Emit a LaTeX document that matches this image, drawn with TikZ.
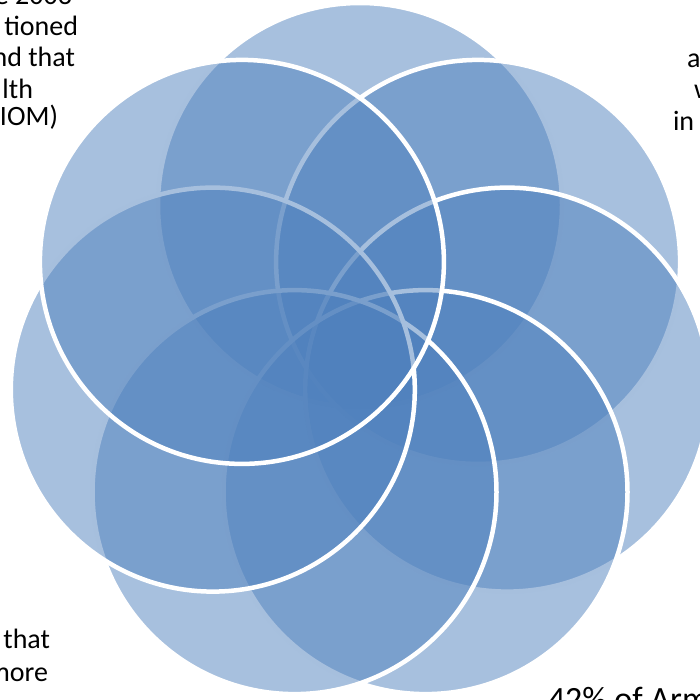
\documentclass[tikz,border=0pt]{standalone}
\usepackage{fontspec}
\setmainfont{Carlito}
\definecolor{accentblue}{HTML}{4F81BD}
\begin{document}
\begin{tikzpicture}[x=1pt,y=-1pt,
  petal/.style={fill=accentblue, fill opacity=0.5, draw=white, line width=4.5pt},
  txt/.style={inner sep=0pt, outer sep=0pt, font=\fontsize{28}{32}\selectfont, text=black},
  bigtxt/.style={inner sep=0pt, outer sep=0pt, font=\fontsize{34}{40}\selectfont, text=black}]
\useasboundingbox (0,0) rectangle (700,699);
% centres of the seven circles
\coordinate (c0) at (360,205);
\coordinate (c1) at (478.1,261.9);
\coordinate (c2) at (507.2,389.6);
\coordinate (c3) at (425.5,492.1);
\coordinate (c4) at (294.5,492.1);
\coordinate (c5) at (212.8,389.6);
\coordinate (c6) at (241.9,261.9);
\foreach \k in {0,...,6}{
  \path[petal] (c\k) circle[radius=202];
}
% top-left text
\node[txt, anchor=base east] (tl1) at (72,4) {e 2003};
\node[txt, anchor=base east] (tl2) at (78,35) {tioned};
\node[txt, anchor=base east] (tl3) at (75,66.5) {nd that};
\node[txt, anchor=base east] (tl4) at (33,98) {lth};
\node[txt, anchor=base east] (tl5) at (58,125) {IOM)};
% top-right text
\node[txt, anchor=base west] (tr1) at (687,67) {a};
\node[txt, anchor=base west] (tr2) at (694,98) {w};
\node[txt, anchor=base west] (tr3) at (673,130) {in};
% bottom-left text
\node[txt, anchor=base east] (bl1) at (50,648) {that};
\node[txt, anchor=base east] (bl2) at (48,681) {more};
% bottom-right text
\node[bigtxt, anchor=base west] (br1) at (548,710) {42\% of Arm};
\end{tikzpicture}
\end{document}
